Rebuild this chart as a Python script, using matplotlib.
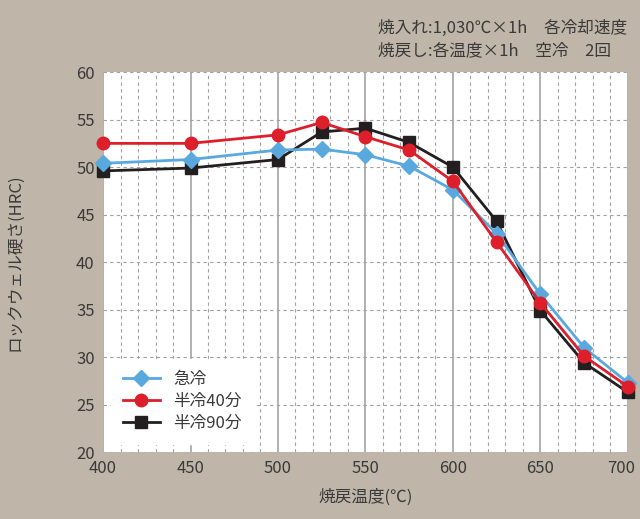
import matplotlib
matplotlib.use('Agg')
import matplotlib.pyplot as plt
import matplotlib.transforms as mtransforms
from matplotlib.ticker import MultipleLocator

plt.rcParams['font.family'] = ['Noto Sans CJK JP', 'DejaVu Sans']

temps = [400, 450, 500, 525, 550, 575, 600, 625, 650, 675, 700]
kyurei = [50.4, 50.8, 51.8, 51.9, 51.3, 50.1, 47.6, 43.0, 36.6, 31.0, 27.3]
hanrei40 = [52.5, 52.5, 53.4, 54.7, 53.2, 51.8, 48.5, 42.1, 35.7, 30.1, 26.9]
hanrei90 = [49.6, 49.9, 50.8, 53.7, 54.1, 52.6, 50.0, 44.3, 34.9, 29.4, 26.3]
labels = ['急冷', '半冷40分', '半冷90分']
xticks = [400, 450, 500, 550, 600, 650, 700]

bg = '#bfb5a8'
txt = '#3a3a3a'

fig = plt.figure(figsize=(6.4, 5.19), dpi=100, facecolor=bg)
ax = fig.add_axes([0.161, 0.129, 0.82, 0.732])
ax.set_facecolor('white')

ax.set_xlim(400, 700)
ax.set_ylim(20, 60)
ax.set_xticks(xticks)
ax.xaxis.set_minor_locator(MultipleLocator(10))
ax.yaxis.set_major_locator(MultipleLocator(5))

# grid: dashed minor verticals + horizontals, solid majors every 50
ax.grid(True, which='minor', axis='x', color='#a0a0a0', linestyle=(0, (3, 3)), linewidth=0.8)
ax.grid(True, which='major', axis='y', color='#a0a0a0', linestyle=(0, (3, 3)), linewidth=0.8)
ax.grid(True, which='major', axis='x', color='#aaaaaa', linestyle='-', linewidth=1.3)
ax.set_axisbelow(True)
for s in ax.spines.values():
    s.set_visible(False)
ax.tick_params(which='both', length=0, labelsize=12, labelcolor=txt, pad=6)

# nudge the "700" label left so it stays inside the figure
last = ax.xaxis.get_major_ticks()[-1].label1
last.set_transform(last.get_transform() + mtransforms.ScaledTranslation(-7 / 100, 0, fig.dpi_scale_trans))

ax.plot(temps, kyurei, color='#59a8de', marker='D', markersize=8, linewidth=2, label=labels[0], clip_on=False, zorder=3)
ax.plot(temps, hanrei40, color='#dc1f2a', marker='o', markersize=9, linewidth=2, label=labels[1], clip_on=False, zorder=4)
ax.plot(temps, hanrei90, color='#231f20', marker='s', markersize=9, linewidth=2, label=labels[2], clip_on=False, zorder=2)

leg = ax.legend(loc='lower left', bbox_to_anchor=(0.0, 0.0), frameon=True, fancybox=False,
                edgecolor='white', facecolor='white', framealpha=1, fontsize=12,
                handlelength=2.2, labelspacing=0.3, borderpad=0.7)
for t in leg.get_texts():
    t.set_color(txt)

ax.set_xlabel('焼戻温度(℃)', fontsize=12, color=txt, labelpad=8)
ax.set_ylabel('ロックウェル硬さ(HRC)', fontsize=12, color=txt, labelpad=38)

fig.text(0.59, 0.946, '焼入れ:1,030℃×1h　各冷却速度', ha='left', va='center', fontsize=12, color=txt)
fig.text(0.59, 0.903, '焼戻し:各温度×1h　空冷　2回', ha='left', va='center', fontsize=12, color=txt)

fig.savefig('out.png', dpi=100, facecolor=bg)
